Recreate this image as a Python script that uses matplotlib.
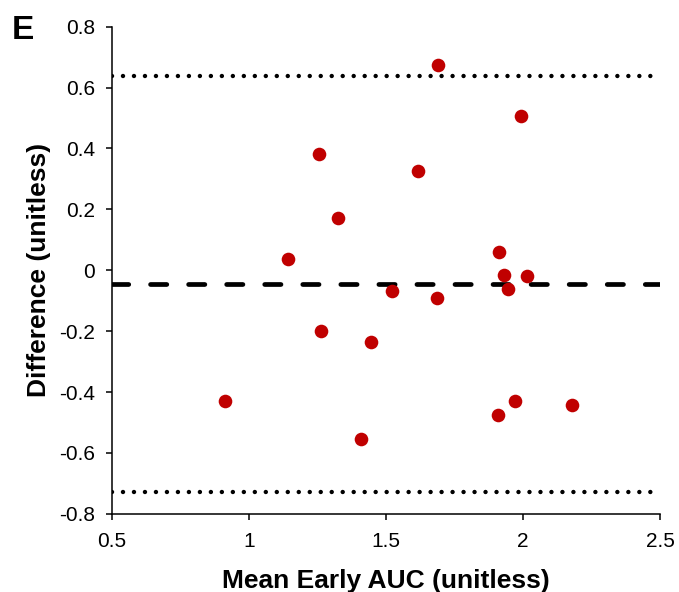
import matplotlib
matplotlib.use("Agg")
import matplotlib.pyplot as plt

plt.rcParams['font.family'] = ['Liberation Sans', 'DejaVu Sans']
plt.rcParams['lines.scale_dashes'] = False

mean_auc = [0.912, 1.144, 1.254, 1.262, 1.323, 1.409, 1.444, 1.521, 1.616, 1.686,
            1.691, 1.907, 1.912, 1.930, 1.944, 1.970, 1.994, 2.013, 2.178]
difference = [-0.429, 0.038, 0.383, -0.199, 0.172, -0.553, -0.237, -0.068, 0.326, -0.091,
              0.675, -0.477, 0.059, -0.017, -0.060, -0.430, 0.507, -0.019, -0.444]
mean_diff = -0.045
upper_loa = 0.637
lower_loa = -0.7275
x_ticks = [0.5, 1, 1.5, 2, 2.5]
x_ticklabels = ['0.5', '1', '1.5', '2', '2.5']
y_ticks = [-0.8, -0.6, -0.4, -0.2, 0, 0.2, 0.4, 0.6, 0.8]
y_ticklabels = ['-0.8', '-0.6', '-0.4', '-0.2', '0', '0.2', '0.4', '0.6', '0.8']

fig = plt.figure(figsize=(6.79, 5.92), dpi=100)
ax = fig.add_axes([0.165, 0.132, 0.807, 0.823])

ax.axhline(mean_diff, color='black', lw=3.4, linestyle=(0, (11.7, 15.7)),
           dash_capstyle='round', zorder=2)
for v in (upper_loa, lower_loa):
    ax.axhline(v, color='black', lw=3.2, linestyle=(0, (0.01, 7.9)),
               dash_capstyle='round', zorder=2)

ax.plot(mean_auc, difference, linestyle='none', marker='o', markersize=9.8,
        color='#C00000', markeredgewidth=0, zorder=3)

ax.set_xlim(0.5, 2.5)
ax.set_ylim(-0.8, 0.8)
ax.set_xticks(x_ticks)
ax.set_xticklabels(x_ticklabels)
ax.set_yticks(y_ticks)
ax.set_yticklabels(y_ticklabels)

for s in ('top', 'right'):
    ax.spines[s].set_visible(False)
for s in ('left', 'bottom'):
    ax.spines[s].set_linewidth(1.1)
ax.tick_params(direction='out', length=4, width=1.1, labelsize=15)
ax.tick_params(axis='y', pad=8)
ax.tick_params(axis='x', pad=9)

ax.set_xlabel('Mean Early AUC (unitless)', fontsize=19, fontweight='bold', labelpad=13)
ax.set_ylabel('Difference (unitless)', fontsize=19, fontweight='bold', labelpad=6)

fig.text(0.017, 0.948, 'E', fontsize=24, fontweight='bold', va='center', ha='left')

fig.savefig('out.png', dpi=100)
